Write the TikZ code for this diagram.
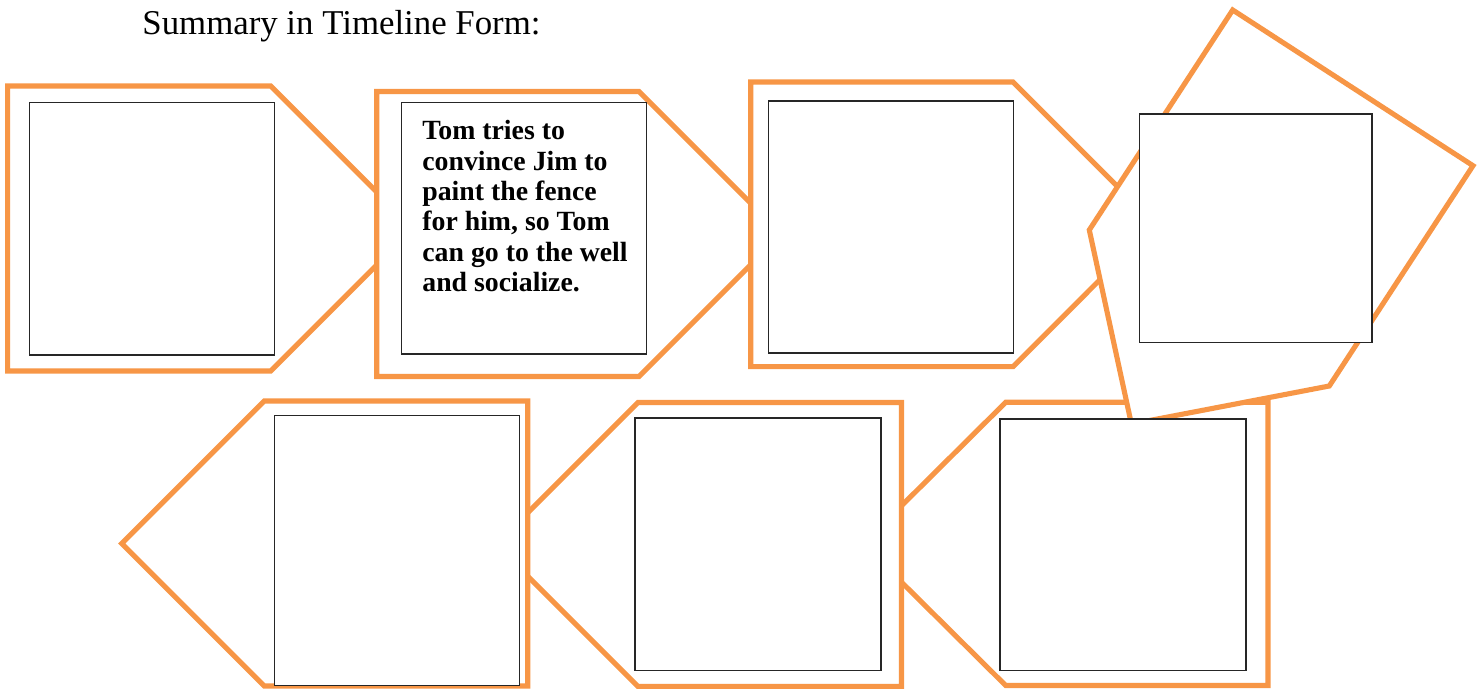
\documentclass[tikz,border=0pt]{standalone}
\usepackage{fontspec}
\setmainfont{Liberation Serif}
\usepackage{xcolor}
\usepackage{tikz}
\definecolor{tagorange}{RGB}{247,150,70}
\tikzset{
  tag/.style={draw=tagorange, fill=white, line width=1.45pt},
  card/.style={draw=black!85, fill=white, line width=0.45pt}
}

\begin{document}
\begin{tikzpicture}[x=0.01cm, y=-0.01cm]
  \useasboundingbox (0,0) rectangle (1481,689);

  % Title
  \node[anchor=base west, inner sep=0, font=\fontsize{9.9}{12}\selectfont] (title) at (141.7,35) {Summary in Timeline Form:};

  % Top row, pointing right
  \filldraw[tag] (7.7,86) -- (270.7,86) -- (413.2,228.5) -- (270.7,371) -- (7.7,371) -- cycle;
  \filldraw[card] (29.3,102.7) rectangle (274.7,355);

  \filldraw[tag] (376.7,91.5) -- (639,91.5) -- (781.5,234) -- (639,376.5) -- (376.7,376.5) -- cycle;
  \filldraw[card] (401.7,102.7) rectangle (646.7,354.3);
  \node[anchor=north west, inner sep=0, align=left, font=\bfseries\fontsize{7.9}{8.62}\selectfont] (note) at (421.7,120)
    {Tom tries to\\convince Jim to\\paint the fence\\for him, so Tom\\can go to the well\\and socialize.};

  \filldraw[tag] (750.7,82) -- (1013,82) -- (1155.3,224.3) -- (1013,366.7) -- (750.7,366.7) -- cycle;
  \filldraw[card] (768.3,101.3) rectangle (1013.7,353.3);

  % Bottom row, pointing left
  \filldraw[tag] (1268,402.3) -- (1005.7,402.3) -- (863,544) -- (1005.7,685.5) -- (1268,685.5) -- cycle;

  % Turned piece on the right
  \filldraw[tag] (1232.7,10) -- (1473,165.7) -- (1329.3,386) -- (1131.4,424) -- (1089.3,230) -- cycle;
  \filldraw[card] (1139.3,114.3) rectangle (1371.7,342.7);

  \filldraw[card] (1000,419.3) rectangle (1245.7,670.7);

  \filldraw[tag] (901.5,402.5) -- (638,402.5) -- (496,544.5) -- (638,686.5) -- (901.5,686.5) -- cycle;
  \filldraw[card] (635,418) rectangle (881,670.7);

  \filldraw[tag] (527.7,401) -- (264.3,401) -- (121.8,543.5) -- (264.3,686) -- (527.7,686) -- cycle;
  \filldraw[card] (274.3,415.7) rectangle (519.7,685.7);
\end{tikzpicture}
\end{document}
